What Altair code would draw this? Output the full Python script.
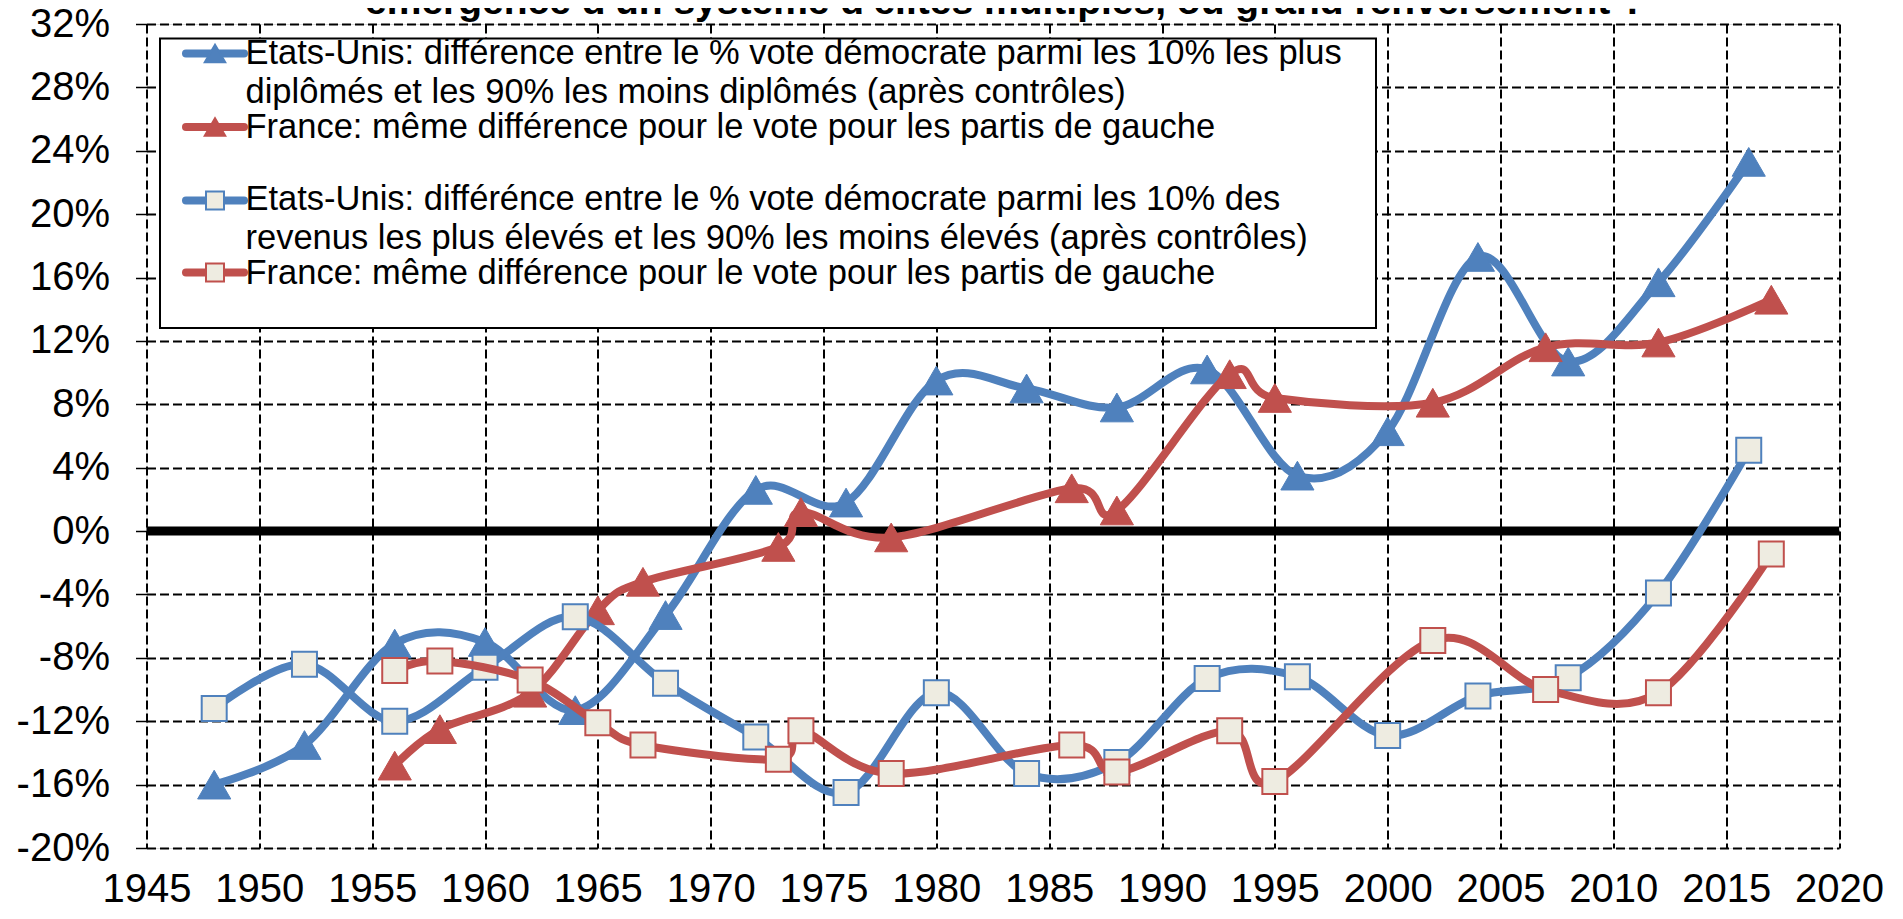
import altair as alt
import pandas as pd

# ---- data ----
US_EDU_YEARS = [1948, 1952, 1956, 1960, 1964, 1968, 1972, 1976, 1980, 1984, 1988, 1992, 1996, 2000, 2004, 2008, 2012, 2016]
US_EDU = [-16.0, -13.5, -7.1, -7.0, -11.3, -5.3, 2.6, 1.8, 9.5, 9.0, 7.8, 10.2, 3.5, 6.3, 17.3, 10.7, 15.7, 23.3]

FR_EDU_YEARS = [1956, 1958, 1962, 1965, 1967, 1973, 1974, 1978, 1986, 1988, 1993, 1995, 2002, 2007, 2012, 2017]
FR_EDU = [-14.8, -12.5, -10.2, -5.0, -3.2, -1.0, 1.2, -0.4, 2.7, 1.3, 9.9, 8.4, 8.1, 11.6, 11.9, 14.6]

US_INC_YEARS = [1948, 1952, 1956, 1960, 1964, 1968, 1972, 1976, 1980, 1984, 1988, 1992, 1996, 2000, 2004, 2008, 2012, 2016]
US_INC = [-11.2, -8.4, -12.0, -8.6, -5.4, -9.6, -13.0, -16.5, -10.2, -15.3, -14.6, -9.3, -9.2, -12.9, -10.4, -9.25, -3.9, 5.1]

FR_INC_YEARS = [1956, 1958, 1962, 1965, 1967, 1973, 1974, 1978, 1986, 1988, 1993, 1995, 2002, 2007, 2012, 2017]
FR_INC = [-8.8, -8.2, -9.4, -12.1, -13.5, -14.4, -12.6, -15.3, -13.5, -15.2, -12.6, -15.8, -6.9, -10.0, -10.2, -1.45]

X_TICKS = list(range(1945, 2021, 5))
Y_TICKS = list(range(-20, 33, 4))

LEGEND_LABELS = [
    "Etats-Unis: différence entre le % vote démocrate parmi les 10% les plus\ndiplômés et les 90% les moins diplômés (après contrôles)",
    "France: même différence pour le vote pour les partis de gauche",
    "Etats-Unis: différénce entre le % vote démocrate parmi les 10% des\nrevenus les plus élevés et les 90% les moins élevés (après contrôles)",
    "France: même différence pour le vote pour les partis de gauche",
]
TITLE = "émergence d'un système d'élites multiples, ou grand renversement ?"

BLUE = "#4F81BD"
RED = "#C0504D"
SQ_FILL = "#EEECE1"
FONT = "Liberation Sans"

X = alt.X(
    "year:Q",
    scale=alt.Scale(domain=[1945, 2020], nice=False, zero=False),
    axis=alt.Axis(
        values=X_TICKS, format="d", title=None, grid=True, gridColor="black",
        gridDash=[9, 4], gridWidth=2, gridOpacity=1, ticks=False, tickSize=0, domain=False,
        labelFont=FONT, labelFontSize=40, labelColor="black", labelPadding=53,
        labelBaseline="alphabetic", labelFlush=False, labelOverlap=False,
    ),
)
Y = alt.Y(
    "value:Q",
    scale=alt.Scale(domain=[-20, 32], nice=False, zero=False),
    axis=alt.Axis(
        values=Y_TICKS, labelExpr="datum.value + '%'", title=None, grid=True,
        gridColor="black", gridDash=[9, 4], gridWidth=2, gridOpacity=1,
        ticks=True, tickSize=11, tickColor="black", tickWidth=1.5, domain=False,
        labelFont=FONT, labelFontSize=40, labelColor="black", labelPadding=26,
        labelFlush=False, labelOverlap=False,
    ),
)


def series(years, vals, color, shape):
    df = pd.DataFrame({"year": years, "value": vals})
    base = alt.Chart(df).encode(x=X, y=Y)
    line = base.mark_line(color=color, strokeWidth=8, interpolate="cardinal",
                          strokeCap="round", strokeJoin="round")
    if shape == "tri":
        pts = base.mark_point(shape="triangle-up", filled=True, size=1100,
                              fill=color, stroke=color, strokeWidth=1, opacity=1)
    else:
        pts = base.mark_point(shape="square", filled=True, size=625, fill=SQ_FILL,
                              stroke=color, strokeWidth=2, opacity=1)
    return [line, pts]


zero_rule = alt.Chart(pd.DataFrame({"value": [0]})).mark_rule(
    color="black", strokeWidth=9).encode(y=Y)

layers = [zero_rule]
layers += series(US_EDU_YEARS, US_EDU, BLUE, "tri")
layers += series(FR_EDU_YEARS, FR_EDU, RED, "tri")
layers += series(US_INC_YEARS, US_INC, BLUE, "sq")
layers += series(FR_INC_YEARS, FR_INC, RED, "sq")

# ---- legend box ----
one = pd.DataFrame({"a": [0]})
layers.append(
    alt.Chart(one).mark_rect(fill="white", stroke="black", strokeWidth=2).encode(
        x=alt.value(13.5), x2=alt.value(1229.5), y=alt.value(14.5), y2=alt.value(304))
)
sym_y = [29.5, 103, 176.5, 248.5]
txt_y = [40, 114, 186, 260]
colors = [BLUE, RED, BLUE, RED]
shapes = ["tri", "tri", "sq", "sq"]
for i, lab in enumerate(LEGEND_LABELS):
    layers.append(
        alt.Chart(one).mark_rule(color=colors[i], strokeWidth=8, strokeCap="round").encode(
            x=alt.value(39.5), x2=alt.value(97.5), y=alt.value(sym_y[i]))
    )
    if shapes[i] == "tri":
        m = alt.Chart(one).mark_point(shape="triangle-up", filled=True, size=420,
                                      fill=colors[i], stroke=colors[i], opacity=1)
    else:
        m = alt.Chart(one).mark_point(shape="square", filled=True, size=324, fill=SQ_FILL,
                                      stroke=colors[i], strokeWidth=2, opacity=1)
    layers.append(m.encode(x=alt.value(68.5), y=alt.value(sym_y[i])))
    layers.append(
        alt.Chart(pd.DataFrame({"t": [lab]})).mark_text(
            align="left", baseline="alphabetic", fontSize=34.5, font=FONT, color="black",
            lineBreak="\n", lineHeight=38.5).encode(
            x=alt.value(99), y=alt.value(txt_y[i]), text="t:N")
    )

# ---- title (cut off at the top, as in the reference) ----
layers.append(
    alt.Chart(pd.DataFrame({"t": [TITLE]})).mark_text(
        align="center", baseline="alphabetic", fontSize=39, fontWeight="bold",
        font=FONT, color="black").encode(x=alt.value(858.5), y=alt.value(-10), text="t:N")
)

chart = alt.layer(*layers).properties(
    width=1692.5,
    height=824,
    padding={"left": 138.5, "top": 16, "right": 56, "bottom": 62},
    autosize=alt.AutoSizeParams(type="none"),
).configure_view(stroke="black", strokeWidth=5).configure(font=FONT)

chart.save("out.html", embed_options={"renderer": "svg", "actions": False})
